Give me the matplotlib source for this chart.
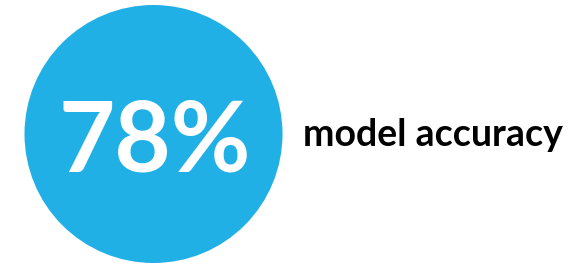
import matplotlib
matplotlib.use("Agg")
import matplotlib.pyplot as plt
from matplotlib.patches import Circle

# data
value = 78
label = "model accuracy"

fig = plt.figure(figsize=(5.79, 2.64), dpi=100)
ax = fig.add_axes([0, 0, 1, 1])
ax.set_xlim(0, 579)
ax.set_ylim(264, 0)
ax.set_aspect("equal")
ax.axis("off")

ax.add_patch(Circle((153.5, 134), 129, color="#21B0E6", lw=0))

ax.text(155, 143, f"{value}%", color="white", fontsize=70, fontweight="bold",
        family="Lato", ha="center", va="center")
ax.text(303, 146, label, color="black", fontsize=27, fontweight="bold",
        family="Lato", ha="left", va="baseline")

fig.savefig("out.png", dpi=100)
